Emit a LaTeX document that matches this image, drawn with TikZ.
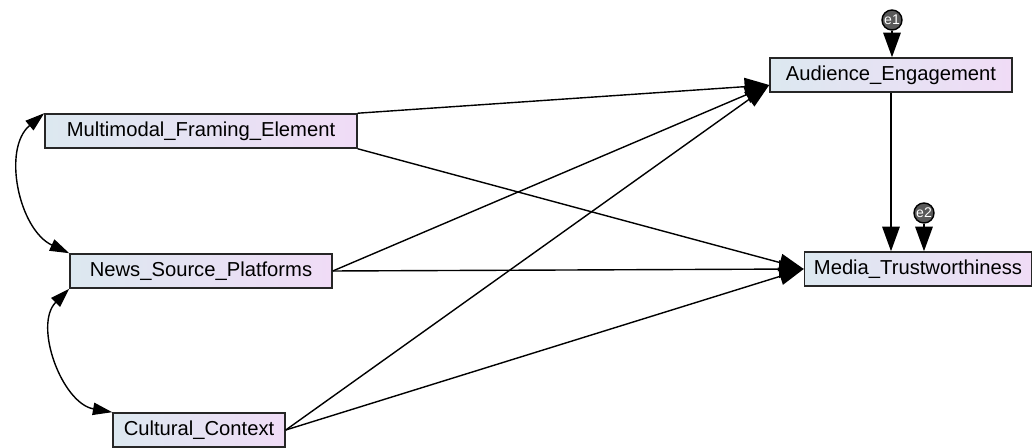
\documentclass[tikz,border=0pt]{standalone}
\usepackage{fontspec}
\setmainfont{Liberation Sans}
\usetikzlibrary{arrows.meta,positioning}

\definecolor{boxleft}{HTML}{DCE8F0}
\definecolor{boxright}{HTML}{F0DCF6}

\begin{document}
\begin{tikzpicture}[
  x=0.02cm, y=-0.02cm,
  var/.style={draw=black!85, line width=0.9pt, rectangle,
              left color=boxleft, right color=boxright,
              minimum height=0.68cm, inner sep=0pt,
              font=\fontsize{11.5}{13}\selectfont},
  err/.style={draw=black, line width=0.8pt, circle, fill=black!65,
              minimum size=0.4cm, inner sep=0pt,
              font=\fontsize{8}{9}\selectfont\color{white}},
  arr/.style={-{Triangle[length=14pt,width=10pt]}, line width=0.8pt},
  cov/.style={{Triangle[length=11pt,width=7pt]}-{Triangle[length=11pt,width=7pt]}, line width=0.8pt}
]
\useasboundingbox (0,0) rectangle (1036,448);
\node[var, minimum width=6.24cm] (mfe) at (201,131) {Multimodal\_Framing\_Element};
\node[var, minimum width=5.24cm] (nsp) at (201,271) {News\_Source\_Platforms};
\node[var, minimum width=3.44cm] (cc)  at (199,430) {Cultural\_Context};
\node[var, minimum width=4.84cm] (ae)  at (891,75)  {Audience\_Engagement};
\node[var, minimum width=4.54cm] (mt)  at (918,269) {Media\_Trustworthiness};
\node[err] (e1) at (892,20)  {e1};
\node[err] (e2) at (924,213) {e2};
\coordinate (aein) at ([yshift=-0.2cm]ae.west);
\draw[arr] (mfe.north east) -- (aein);
\draw[arr] (nsp.east) -- (aein);
\draw[arr] (cc.east) -- (aein);
\draw[arr] (mfe.south east) -- (mt.west);
\draw[arr] (nsp.east) -- (mt.west);
\draw[arr] (cc.east) -- (mt.west);
\draw[arr] (ae.south) -- (ae.south |- mt.north);
\draw[arr] (e1) -- (ae.north -| e1);
\draw[arr] (e2) -- (mt.north -| e2);
\draw[cov] (mfe.north west) to[out=220, in=155] (nsp.north west);
\draw[cov] (nsp.south west) to[out=225, in=170] (cc.north west);
\end{tikzpicture}
\end{document}
